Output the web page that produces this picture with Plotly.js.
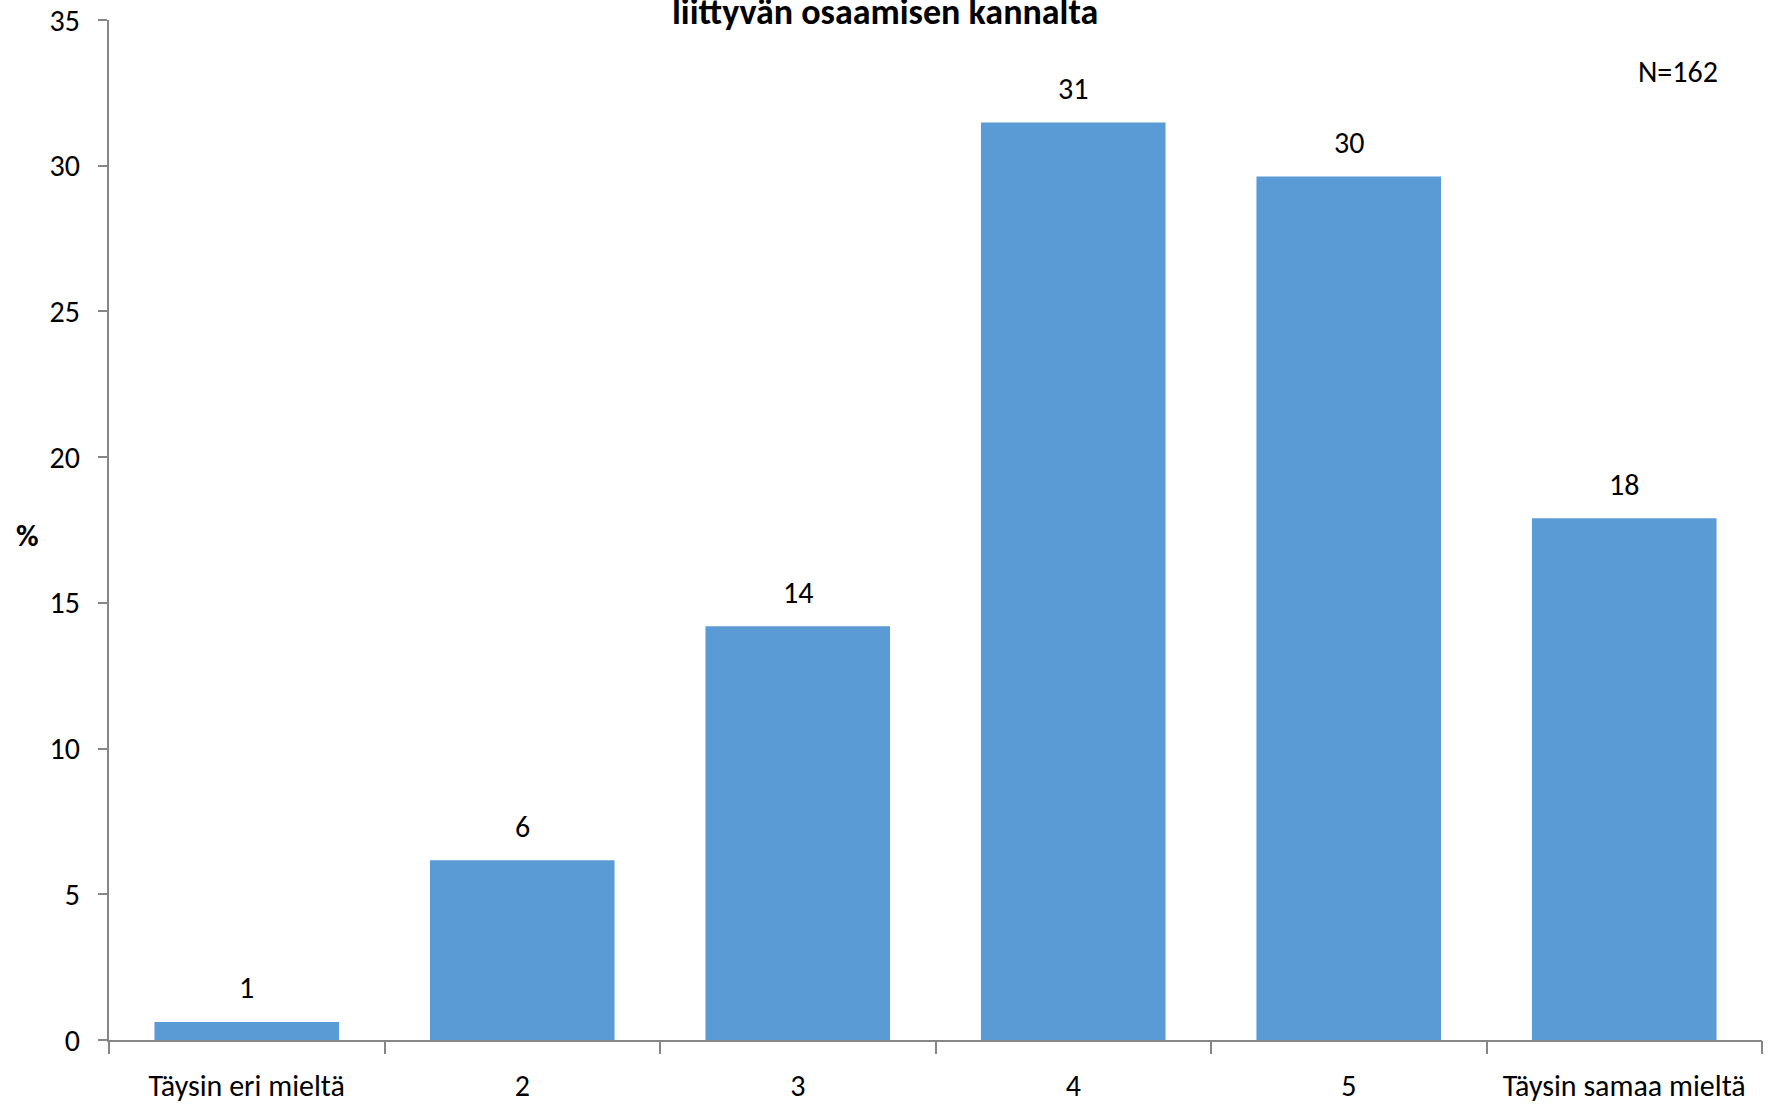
<!DOCTYPE html>
<html>
<head>
<meta charset="utf-8">
<script src="https://cdn.plot.ly/plotly-3.0.1.min.js"></script>
<style>html,body{margin:0;padding:0;background:#fff;}#chart{width:1769px;height:1106px;}</style>
</head>
<body>
<div id="chart"></div>
<script>
const categories = ["Täysin eri mieltä", "2", "3", "4", "5", "Täysin samaa mieltä"];
const percents = [0.62, 6.17, 14.20, 31.48, 29.63, 17.90];
const yTicks = [0, 5, 10, 15, 20, 25, 30, 35];
const titleText = "liittyvän osaamisen kannalta";
const nText = "N=162";
const yLabel = "%";

const FONT = "Carlito, 'Liberation Sans Narrow', 'Open Sans', sans-serif";

const trace = {
  type: "bar",
  x: categories.map((c, i) => i),
  y: percents,
  marker: {color: "#5B9BD5"},
  hoverinfo: "skip"
};

const labelAnns = categories.map((c, i) => ({
  x: i, y: percents[i], xref: "x", yref: "y",
  text: String(Math.round(percents[i])),
  showarrow: false, yanchor: "middle", yshift: 34,
  font: {family: FONT, size: 30, color: "#000"}
}));

const layout = {
  width: 1769, height: 1106,
  margin: {l: 109, r: 7, t: 20, b: 66},
  paper_bgcolor: "#fff", plot_bgcolor: "#fff",
  bargap: 0.33,
  showlegend: false,
  font: {family: FONT, size: 30, color: "#000"},
  xaxis: {
    type: "linear",
    range: [-0.5, categories.length - 0.5],
    tickvals: categories.map((c, i) => i),
    ticktext: categories,
    ticks: "", showgrid: false, zeroline: false,
    showline: true, linecolor: "#868686", linewidth: 2,
    ticklabelstandoff: 18,
    tickfont: {family: FONT, size: 30, color: "#000"}
  },
  xaxis2: {
    overlaying: "x", matches: "x", anchor: "y",
    range: [-0.5, categories.length - 0.5],
    tickvals: categories.map((c, i) => i - 0.5).concat([categories.length - 0.5]),
    showticklabels: false,
    ticks: "outside", ticklen: 13, tickwidth: 2, tickcolor: "#868686",
    showgrid: false, zeroline: false, showline: false
  },
  yaxis: {
    range: [0, 35],
    tickvals: yTicks,
    ticks: "outside", ticklen: 9, tickwidth: 2, tickcolor: "#868686",
    showline: true, linecolor: "#868686", linewidth: 2,
    showgrid: false, zeroline: false,
    ticklabelstandoff: 12,
    tickfont: {family: FONT, size: 30, color: "#000"}
  },
  annotations: labelAnns.concat([
    {xref: "paper", yref: "paper", x: (885 - 109) / (1769 - 109 - 7), y: 1 - 16 / 1020,
     xanchor: "center", yanchor: "bottom", showarrow: false,
     text: "<b>" + titleText + "</b>",
     font: {family: FONT, size: 36, color: "#000"}},
    {xref: "paper", yref: "paper", x: (1678 - 109) / (1769 - 109 - 7), y: 1 - (71 - 20) / 1020,
     xanchor: "center", yanchor: "middle", showarrow: false,
     text: nText, font: {family: FONT, size: 30, color: "#000"}},
    {xref: "paper", yref: "paper", x: (27 - 109) / (1769 - 109 - 7), y: 1 - (535 - 20) / 1020,
     xanchor: "center", yanchor: "middle", showarrow: false,
     text: "<b>" + yLabel + "</b>", font: {family: FONT, size: 31, color: "#000"}}
  ])
};

const tickTrace = {type: "scatter", x: [], y: [], xaxis: "x2", yaxis: "y", hoverinfo: "skip"};

Plotly.newPlot("chart", [trace, tickTrace], layout, {displayModeBar: false, staticPlot: true});
</script>
</body>
</html>
